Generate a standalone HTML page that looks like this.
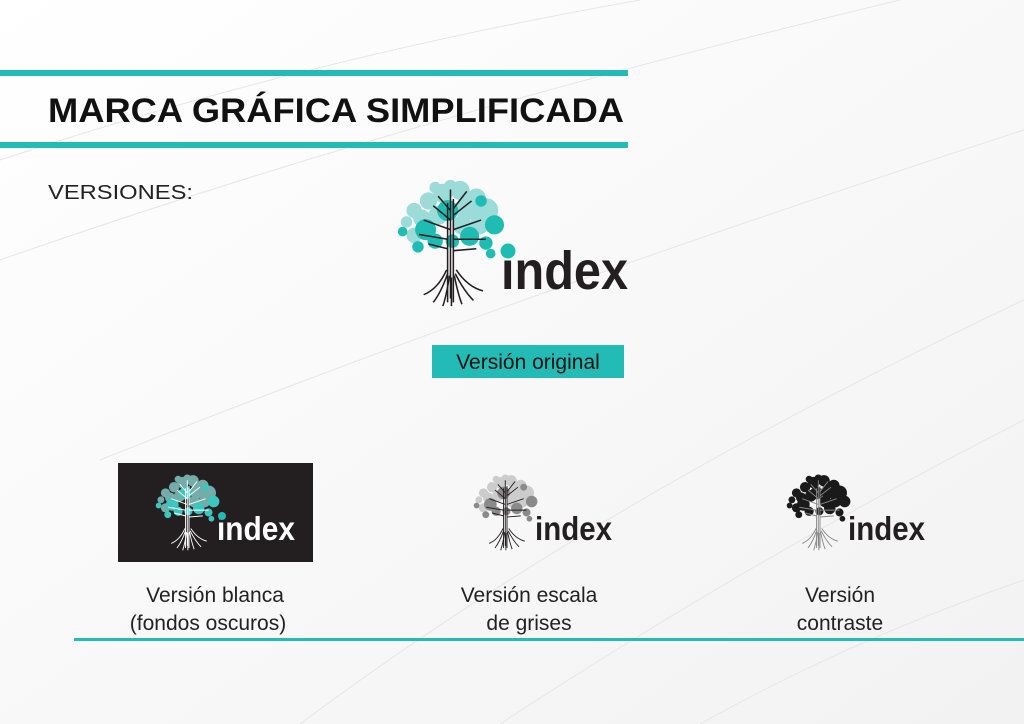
<!DOCTYPE html>
<html><head><meta charset="utf-8"><style>
html,body{margin:0;padding:0;background:#fff}
svg{display:block}
text{font-family:"Liberation Sans",sans-serif}
</style></head><body>
<svg width="1024" height="724" viewBox="0 0 1024 724" xmlns="http://www.w3.org/2000/svg">
<defs>
<linearGradient id="bg" x1="0" y1="0" x2="1" y2="1">
<stop offset="0" stop-color="#ffffff"/><stop offset="1" stop-color="#f2f2f2"/>
</linearGradient>
<symbol id="tree" viewBox="0 0 115 130" overflow="visible">
<g style="fill:var(--c1);opacity:var(--o)">
<circle cx="50" cy="12" r="10"/><circle cx="68" cy="9" r="10"/><circle cx="85" cy="17" r="10"/>
<circle cx="35" cy="20" r="9"/><circle cx="20" cy="30" r="8"/><circle cx="95" cy="30" r="13"/>
<circle cx="75" cy="28" r="12"/><circle cx="45" cy="35" r="10"/><circle cx="70" cy="45" r="10"/>
<circle cx="12" cy="42" r="6"/><circle cx="20" cy="56" r="8"/><circle cx="58" cy="5" r="7"/>
<circle cx="42" cy="6" r="6"/><circle cx="28" cy="38" r="9"/><circle cx="88" cy="45" r="10"/>
</g>
<g style="fill:var(--c2)">
<circle cx="104" cy="45" r="10"/><circle cx="55" cy="30" r="11"/><circle cx="32" cy="50" r="11"/>
<circle cx="42" cy="62" r="8"/><circle cx="78" cy="57" r="10"/><circle cx="95" cy="64" r="7"/>
<circle cx="60" cy="62" r="7"/><circle cx="8" cy="52" r="5"/><circle cx="100" cy="75" r="5"/>
<circle cx="24" cy="68" r="6"/><circle cx="90" cy="20" r="6"/>
</g>
<g style="stroke:var(--c3)" stroke-width="1.6" fill="none">
<path d="M58 8V122M61 18V126M55 22V126"/>
<path d="M58 40L40 25M58 50L30 40M61 35L80 20M61 50L90 40M61 60L95 60M55 60L25 55M58 30L45 15M61 28L75 10M55 70L35 65M61 72L85 70"/>
<path d="M54 92Q45 112 30 118M55 96Q48 116 40 126M57 98Q54 118 50 130M62 98Q66 118 70 128M63 96Q72 114 82 124M64 92Q76 110 92 114M59 100V130"/>
</g>
</symbol>
</defs>
<rect width="1024" height="724" fill="url(#bg)"/>
<g stroke="#e6e6e6" stroke-width="1" fill="none">
<path d="M0 160Q300 60 640 0"/><path d="M0 260Q400 120 900 0"/><path d="M300 724Q600 500 1024 300"/>
<path d="M500 724Q750 560 1024 420"/><path d="M700 724Q850 640 1024 580"/><path d="M100 460Q500 300 1024 130"/>
</g>
<rect x="0" y="70" width="628" height="6" fill="#22bbb6"/>
<rect x="0" y="142" width="628" height="6" fill="#22bbb6"/>
<text x="48" y="122" font-size="34" font-weight="bold" fill="#111" textLength="576" lengthAdjust="spacingAndGlyphs">MARCA GRÁFICA SIMPLIFICADA</text>
<text x="48" y="199" font-size="20" fill="#222" textLength="145" lengthAdjust="spacingAndGlyphs">VERSIONES:</text>

<use href="#tree" x="395" y="180" width="110" height="128" style="--c1:#4fc2bd;--c2:#1fbcb4;--c3:#231f20;--o:0.55"/>
<text x="501" y="289" font-size="54" font-weight="bold" fill="#231f20" textLength="127" lengthAdjust="spacingAndGlyphs">index</text>
<circle cx="508" cy="251" r="7.5" fill="#1fbcb4"/>

<rect x="432" y="345" width="192" height="33" fill="#22bbb6"/>
<text x="528" y="369" font-size="21" fill="#111" text-anchor="middle">Versión original</text>

<rect x="118" y="463" width="195" height="99" fill="#231f20"/>
<use href="#tree" x="154" y="474" width="66" height="78" style="--c1:#8fdcd8;--c2:#3cc6be;--c3:#ffffff;--o:0.75"/>
<text x="217" y="540" font-size="33" font-weight="bold" fill="#fff" textLength="78" lengthAdjust="spacingAndGlyphs">index</text>
<circle cx="222" cy="516" r="4" fill="#1fbcb4"/>

<use href="#tree" x="472" y="474" width="66" height="78" style="--c1:#b0b0b0;--c2:#8a8a8a;--c3:#231f20;--o:0.6"/>
<text x="535" y="540" font-size="33" font-weight="bold" fill="#231f20" textLength="77" lengthAdjust="spacingAndGlyphs">index</text>

<use href="#tree" x="785" y="474" width="66" height="78" style="--c1:#1a1a1a;--c2:#1a1a1a;--c3:#888888;--o:1"/>
<text x="848" y="540" font-size="33" font-weight="bold" fill="#231f20" textLength="77" lengthAdjust="spacingAndGlyphs">index</text>

<g font-size="21" fill="#222" text-anchor="middle">
<text x="215" y="602">Versión blanca</text><text x="208" y="630">(fondos oscuros)</text>
<text x="529" y="602">Versión escala</text><text x="529" y="630">de grises</text>
<text x="840" y="602">Versión</text><text x="840" y="630">contraste</text>
</g>
<rect x="74" y="638" width="950" height="3" fill="#22bbb6"/>
</svg>
</body></html>
